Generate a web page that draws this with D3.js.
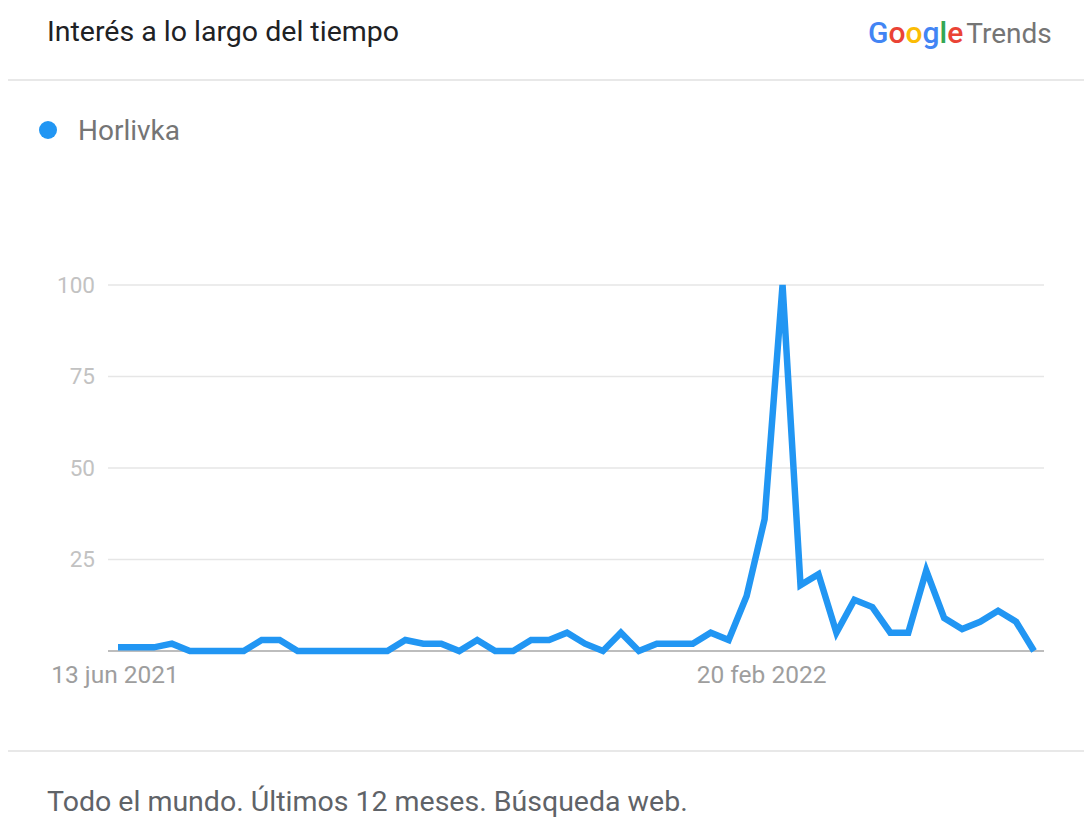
<!DOCTYPE html>
<html>
<head>
<meta charset="utf-8">
<script src="https://cdn.jsdelivr.net/npm/d3@7"></script>
<style>
  html, body { margin: 0; padding: 0; background: #fff; }
  svg { display: block; font-family: Roboto, "Noto Sans", Arial, sans-serif; }
</style>
</head>
<body>
<svg id="chart" width="1084" height="817"></svg>
<script>
// ---- data ----
const seriesName = "Horlivka";
const values = [1, 1, 1, 2, 0, 0, 0, 0, 3, 3,
                0, 0, 0, 0, 0, 0, 3, 2, 2, 0,
                3, 0, 0, 3, 3, 5, 2, 0, 5, 0,
                2, 2, 2, 5, 3, 15, 36, 100, 18, 21,
                5, 14, 12, 5, 5, 22, 9, 6, 8, 11,
                8, 0];
const yTicks = [25, 50, 75, 100];
const xTickIndex = [0, 36];
const xTickLabels = ["13 jun 2021", "20 feb 2022"];
const titleText = "Interés a lo largo del tiempo";
const footerText = "Todo el mundo. Últimos 12 meses. Búsqueda web.";

// ---- drawing ----
const svg = d3.select("#chart");
const blue = "#2196F3";

const x = d3.scaleLinear().domain([0, values.length - 1]).range([118, 1034]);
const y = d3.scaleLinear().domain([0, 100]).range([651, 285]);
const gridX0 = 108, gridX1 = 1044;

// header
svg.append("text").attr("x", 47).attr("y", 41)
  .attr("font-size", 28.5).attr("fill", "#202124").text(titleText);

const logo = svg.append("text").attr("x", 868).attr("y", 43).attr("font-size", 30);
const gColors = ["#4285F4", "#EA4335", "#FBBC05", "#4285F4", "#34A853", "#EA4335"];
"Google".split("").forEach((c, i) => logo.append("tspan").attr("fill", gColors[i]).attr("font-weight", 500).text(c));
logo.append("tspan").attr("fill", "#757575").attr("dx", 3).attr("font-size", 28).text("Trends");

svg.append("line").attr("x1", 8).attr("x2", 1084).attr("y1", 80).attr("y2", 80)
  .attr("stroke", "#e0e0e0").attr("stroke-width", 1.5);

// legend
svg.append("circle").attr("cx", 48).attr("cy", 130).attr("r", 9).attr("fill", blue);
svg.append("text").attr("x", 78).attr("y", 140).attr("font-size", 28)
  .attr("fill", "#757575").text(seriesName);

// grid + y labels
const yAxis = svg.append("g");
yTicks.forEach(t => {
  yAxis.append("line").attr("x1", gridX0).attr("x2", gridX1)
    .attr("y1", y(t)).attr("y2", y(t)).attr("stroke", "#e6e6e6").attr("stroke-width", 1.5);
  yAxis.append("text").attr("x", 95).attr("y", y(t)).attr("dy", "0.35em")
    .attr("text-anchor", "end").attr("font-size", 22.5).attr("fill", "#c2c2c2").text(t);
});
// baseline
svg.append("line").attr("x1", gridX0).attr("x2", gridX1)
  .attr("y1", y(0)).attr("y2", y(0)).attr("stroke", "#bdbdbd").attr("stroke-width", 2);

// x labels
xTickIndex.forEach((idx, i) => {
  svg.append("text").attr("x", x(idx) - 3).attr("y", 683).attr("text-anchor", "middle")
    .attr("font-size", 24.5).attr("fill", "#9e9e9e").text(xTickLabels[i]);
});

// line
const line = d3.line().x((d, i) => x(i)).y(d => y(d));
svg.append("path").datum(values).attr("d", line)
  .attr("fill", "none").attr("stroke", blue).attr("stroke-width", 6.5)
  .attr("stroke-linejoin", "miter").attr("stroke-miterlimit", 4);

// footer
svg.append("line").attr("x1", 8).attr("x2", 1084).attr("y1", 751).attr("y2", 751)
  .attr("stroke", "#e0e0e0").attr("stroke-width", 1.5);
svg.append("text").attr("x", 47).attr("y", 811).attr("font-size", 28.5)
  .attr("fill", "#5f6368").text(footerText);
</script>
</body>
</html>
